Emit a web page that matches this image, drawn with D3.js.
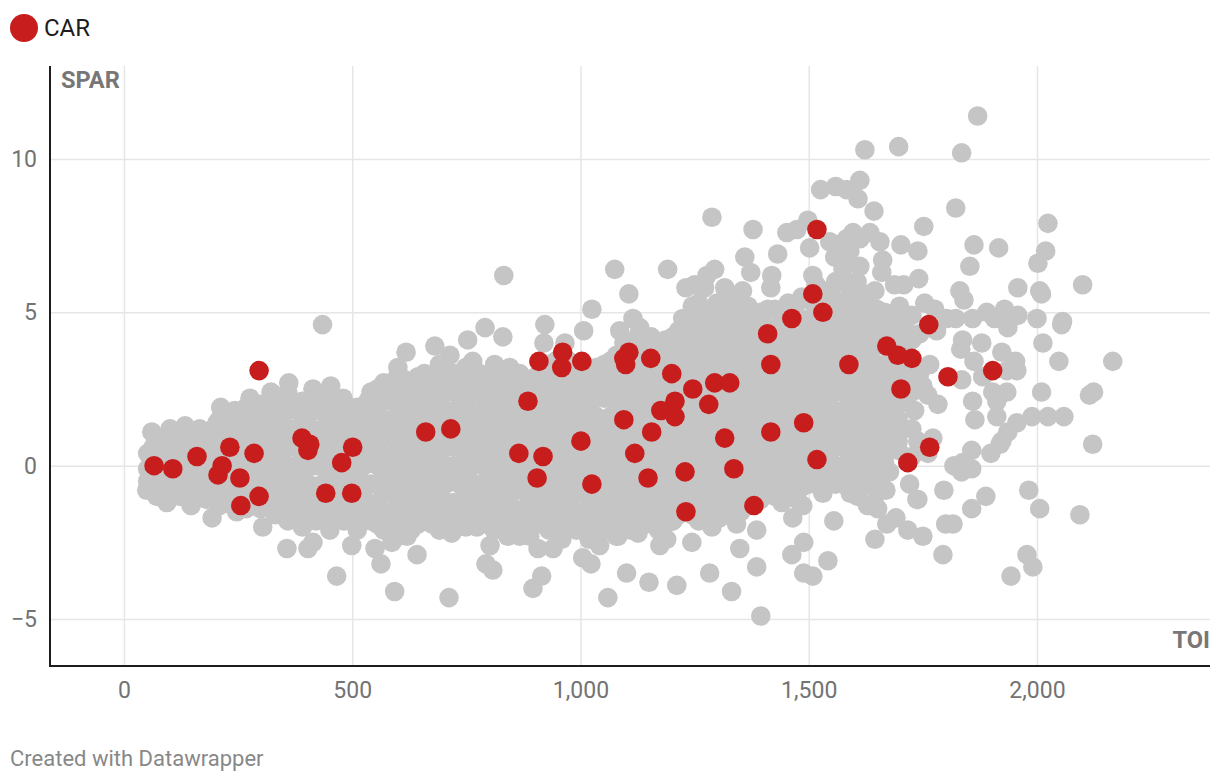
<!DOCTYPE html>
<html><head><meta charset="utf-8">
<script src="https://cdn.jsdelivr.net/npm/d3@7"></script>
<style>
html,body{margin:0;padding:0;background:#fff;width:1220px;height:782px;overflow:hidden}
svg{display:block;font-family:Roboto,sans-serif}
.tick text{font-family:Roboto,sans-serif}
</style></head><body>
<svg id="c" width="1220" height="782"></svg>
<script>
const xTicks=[0,500,1000,1500,2000];
const yTicks=[-5,0,5,10];
const highlightName="CAR";
const xName="TOI";
const yName="SPAR";
const credit="Created with Datawrapper";

const carPoints=[[66,0],[107,-.1],[160,.3],[232,.6],[285,.4],[215,0],[206,-.3],[254,-.4],[256,-1.3],[296,-1],[296,3.1],[390,.9],[407,.7],[403,.5],[477,.1],[501,.6],[442,-.9],[499,-.9],[661,1.1],[716,1.2],[885,2.1],[865,.4],[918,.3],[905,-.4],[909,3.4],[961,3.7],[959,3.2],[1003,3.4],[1001,.8],[1025,-.6],[1095,3.5],[1106,3.7],[1099,3.3],[1154,3.5],[1095,1.5],[1119,.4],[1156,1.1],[1148,-.4],[1200,3],[1176,1.8],[1207,2.1],[1207,1.6],[1246,2.5],[1281,2],[1294,2.7],[1327,2.7],[1316,.9],[1229,-.2],[1231,-1.5],[1336,-.1],[1380,-1.3],[1410,4.3],[1417,3.3],[1417,1.1],[1463,4.8],[1489,1.4],[1509,5.6],[1518,7.7],[1531,5],[1518,.2],[1588,3.3],[1671,3.9],[1695,3.6],[1726,3.5],[1702,2.5],[1717,.1],[1765,.6],[1763,4.6],[1805,2.9],[1903,3.1]];

const outerPoints=[[1870,11.4],[1623,10.3],[1697,10.4],[1835,10.2],[1822,8.4],[1643,8.3],[1612,9.3],[1608,8.7],[1526,9],[1559,9.1],[1583,9],[1288,8.1],[1498,8],[1378,7.7],[1752,7.8],[2024,7.9],[1862,7.2],[1916,7.1],[1739,7],[1702,7.2],[2019,7],[2002,6.6],[1853,6.5],[1662,6.7],[1958,5.8],[2100,5.9],[2006,5.7],[2010,5.6],[1741,6.1],[1708,5.9],[1831,5.7],[1840,5.4],[2000,4.8],[2056,4.7],[2054,4.6],[2013,4],[2048,3.4],[2166,3.4],[2010,2.4],[2124,2.4],[2115,2.3],[2122,.7],[1989,1.6],[2024,1.6],[2059,1.6],[1982,-.8],[2006,-1.4],[2094,-1.6],[1978,-2.9],[1991,-3.3],[1943,-3.6],[1794,-2.9],[1888,-1],[1857,-1.4],[1796,-.8],[1800,-1.9],[1816,-1.9],[1919,.7],[1899,.4],[1857,.5],
[61,1.1],[101,1.2],[134,1.3],[166,1.2],[204,1.4],[212,1.9],[243,1.8],[276,2.2],[322,2.4],[361,2.7],[414,2.5],[453,2.6],[480,2.2],[534,2.1],[618,3.7],[600,3.2],[681,3.9],[714,3.6],[753,4.1],[764,3.4],[812,3.3],[830,4.2],[791,4.5],[832,6.2],[845,3.2],[867,3],[435,4.6],
[50,-.8],[72,-1],[94,-1.2],[147,-1.3],[193,-1.7],[247,-1.5],[304,-2],[357,-2.7],[403,-2.7],[414,-2.5],[466,-3.6],[499,-2.6],[451,-2.1],[563,-3.2],[550,-2.7],[593,-4.1],[642,-2.9],[620,-2.3],[587,-2.5],[712,-4.3],[808,-3.4],[793,-3.2],[802,-2.6],[718,-2.2],[773,-2],
[1075,6.4],[1191,6.4],[1106,5.6],[1025,5.1],[922,4.6],[920,4],[1007,4.4],[966,4],[1115,4.8],[1086,4.4],[1130,4.5],[1360,6.8],[1373,6.3],[1432,6.9],[1419,6.2],[1509,6.2],[1294,6.4],[1277,6.2],[1231,5.8],[1250,5.9],[1272,5.8],[1316,5.8],[1355,5.7],[1367,5.2],[1417,5.8],[1299,5.3],[1224,4.8],[1255,4.8],[1240,4.4],
[896,-4],[915,-3.6],[1060,-4.3],[1101,-3.5],[1150,-3.8],[1211,-3.9],[1283,-3.5],[1331,-4.1],[1395,-4.9],[1386,-3.3],[1349,-2.7],[1244,-2.5],[1023,-3.2],[1005,-3],[1463,-2.9],[1489,-2.5],[1489,-3.5],[1509,-3.6],[1542,-3.1],[1555,-1.8],[1465,-1.7],[1487,-1.3],[1474,-1.1],[1645,-2.4],[1669,-.8],[1717,-2.1],[1671,-1.9],[1691,-1.7],[1651,-1.4],[1629,-1.3],[1607,-1],[1737,-1.1],[1721,-.6],[1673,-.2],[1750,-2.3],
[940,-2.7],[907,-2.7],[955,-2.4],[1042,-2.6],[1082,-2.3],[1126,-2.2],[1174,-2.6],[1189,-2.4],[1288,-2],[1342,-1.9],[1386,-2.1],[1202,-1.8],[889,-2.3],[867,-2.3],[1305,-1.7],[1260,-1.7],
[1502,7.1],[1546,7.3],[1583,7.4],[1597,7.6],[1634,7.6],[1656,7.3],[1557,6.8],[1579,6.7],[1575,6.4],[1612,6.5],[1660,6.3],[1688,5.9],[1645,5.7],[1452,7.6],[1474,7.7],[1590,7],[1612,7.4],[1564,7.2],
[1743,4.3],[1780,4.4],[1837,4.1],[1833,3.8],[1879,4],[1923,3.7],[1862,3.4],[1953,3.4],[1956,3.1],[1934,3.1],[1881,2.9],[1835,2.8],[1934,2.4],[1903,2.4],[1859,2.1],[1912,2.1],[1783,2],[1765,3.3],[1684,4.2],[1750,2.6],[1761,2.3],[1743,3],
[1754,5.3],[1776,5.1],[1699,5.2],[1597,5.5],[1572,5.3],[1802,4.8],[1822,4.8],[1859,4.8],[1890,5],[1907,4.8],[1929,5.1],[1936,4.5],[1958,4.9],
[1936,1.1],[1956,1.4],[1923,.8],[1864,1.5],[1912,1.6],[1772,.9],[1739,.8],[1761,.4],[1704,1.2],[1671,1.2],[1732,1.8],[1684,1.8],[1818,0],[1835,-.2],[1857,-.1],[1837,.1],[1739,-1.1],[1677,-.2]];

const denseColumns=[
[52,[-.5,-.1,.4]],[73,[-.7,-.2,.3,.8]],[94,[-.9,-.4,.1,.7]],[122,[-1,-.6,.1,.6,1]],[151,[-1.1,-.5,0,.7,1]],[181,[-1.1,-.6,.1,.5,1.1]],[209,[-1.3,-.7,-.1,.5,1.1,1.5]],[238,[-1.3,-.8,-.2,.4,1,1.5]],[268,[-1.4,-.9,-.3,.3,.9,1.5,1.9]],[299,[-1.4,-.8,-.2,.4,1,1.6,2]],
[331,[-1.6,-1,-.4,.3,.8,1.5,2.1]],[359,[-1.8,-1.2,-.6,0,.6,1.2,1.8,2.4]],[391,[-2,-1.5,-.9,-.3,.3,.9,1.6,2.1]],[421,[-1.8,-1.2,-.7,0,.6,1.1,1.8,2.3]],[449,[-1.9,-1.5,-.9,-.3,.4,.9,1.5,2.1]],[482,[-1.8,-1.2,-.6,0,.7,1.2,1.8]],[511,[-2.1,-1.5,-.8,-.3,.3,.9,1.5,1.9]],[541,[-1.8,-1.3,-.6,.1,.6,1.2,1.8,2.4]],[569,[-2.1,-1.5,-.9,-.3,.3,1,1.5,2.1,2.7]],[601,[-2.3,-1.8,-1.2,-.6,0,.6,1.2,1.8,2.5,3]],
[629,[-2.1,-1.5,-.9,-.2,.3,.9,1.5,2.1,2.7]],[658,[-1.8,-1.2,-.6,0,.7,1.2,1.8,2.4,3]],[691,[-2.1,-1.5,-.9,-.3,.3,.9,1.6,2.1,2.7,3.3]],[722,[-1.8,-1.2,-.5,0,.6,1.2,1.8,2.4,3]],[749,[-2,-1.5,-.9,-.3,.3,.9,1.5,2.2,2.7,3.2]],[779,[-1.8,-1.2,-.6,.1,.6,1.2,1.8,2.4,3]],[811,[-2.1,-1.5,-.9,-.3,.3,.9,1.5,2.1,2.7]],[841,[-2.3,-1.8,-1.2,-.6,0,.6,1.3,1.8,2.4,3]],[869,[-2.1,-1.5,-.8,-.3,.3,.9,1.5,2.1,2.7]],[902,[-1.8,-1.2,-.6,0,.6,1.2,1.8,2.4,2.9]],
[931,[-2.1,-1.5,-.9,-.3,.4,.9,1.5,2.1,2.7,3.3]],[959,[-2.4,-1.8,-1.2,-.6,0,.6,1.2,1.8,2.4,3,3.6]],[991,[-2.1,-1.5,-.9,-.3,.3,1,1.5,2.1,2.7,3.3]],[1019,[-2.4,-1.8,-1.1,-.6,0,.6,1.2,1.8,2.5,3]],[1052,[-2.1,-1.5,-.9,-.3,.3,.9,1.5,2.2,2.7,3.3]],[1079,[-2.3,-1.8,-1.2,-.6,.1,.6,1.2,1.8,2.4,3,3.6]],[1111,[-2.1,-1.5,-.9,-.3,.3,.9,1.5,2.1,2.7,3.3,3.9]],[1139,[-1.8,-1.2,-.6,0,.6,1.2,1.8,2.4,3,3.6,4.1]],[1171,[-2.1,-1.5,-.9,-.3,.3,.9,1.5,2.1,2.7,3.3,3.9]],[1202,[-1.8,-1.2,-.6,0,.6,1.2,1.8,2.4,3,3.6,4.2]],
[1229,[-1.5,-.9,-.3,.3,.9,1.5,2.1,2.7,3.3,3.9,4.5]],[1259,[-1.8,-1.2,-.6,0,.6,1.2,1.8,2.4,3,3.6,4.2,4.8,5.3]],[1291,[-1.5,-.9,-.3,.3,.9,1.5,2.1,2.7,3.3,3.9,4.5,5.1]],[1321,[-1.2,-.6,0,.6,1.2,1.8,2.4,3,3.6,4.2,4.8,5.4]],[1351,[-1.5,-.9,-.3,.3,.9,1.5,2.1,2.7,3.3,3.9,4.5,5.1]],[1379,[-1.2,-.6,0,.6,1.2,1.8,2.4,3,3.6,4.2,4.8]],[1411,[-.9,-.3,.3,.9,1.5,2.1,2.7,3.3,3.9,4.5,5.1]],[1441,[-1.2,-.6,0,.6,1.2,1.8,2.4,3,3.6,4.2,4.8]],[1469,[-.9,-.3,.3,.9,1.5,2.1,2.7,3.3,3.9,4.5,5.1]],[1501,[-.6,0,.6,1.2,1.8,2.4,3,3.6,4.2,4.8,5.4]],
[1531,[-.9,-.3,.3,.9,1.5,2.1,2.7,3.3,3.9,4.5,5.1,5.7]],[1559,[-.6,0,.6,1.2,1.8,2.4,3,3.6,4.2,4.8,5.4,6]],[1591,[-.9,-.3,.3,.9,1.5,2.1,2.7,3.3,3.9,4.5,5.1,5.7]],[1621,[-.6,0,.6,1.2,1.8,2.4,3,3.6,4.2,4.8,5.4]],[1649,[-.9,-.3,.3,.9,1.5,2.1,2.7,3.3,3.9,4.5,5.1]],[1682,[.6,2.4,3,3.6,4.8]],[1711,[2.1,3.3,3.9,4.5]]
];

const fillColumns=[
[64,[-.4,.1,.6]],[108,[-.7,-.2,.4,.9]],[137,[-.9,-.3,.3,.8]],[166,[-.8,-.3,.3,.8]],[195,[-.9,-.3,.3,.9,1.2]],[224,[-1,-.5,.1,.8,1.3]],[253,[-1.1,-.5,.1,.7,1.3]],[283,[-1.2,-.6,.1,.7,1.3,1.8]],[315,[-1.3,-.7,-.1,.6,1.2,1.8]],[345,[-1.4,-.9,-.3,.3,.9,1.5,2.1]],
[375,[-1.7,-1.1,-.6,0,.6,1.2,1.9]],[405,[-1.7,-1.2,-.6,0,.6,1.3,1.9]],[435,[-1.7,-1.1,-.6,.1,.7,1.2,1.8]],[465,[-1.7,-1.1,-.6,0,.6,1.2,1.8]],[496,[-1.8,-1.2,-.5,.1,.6,1.2,1.7]],[526,[-1.8,-1.1,-.6,0,.6,1.2,1.8]],[555,[-1.9,-1.2,-.6,0,.6,1.3,1.9,2.5]],[585,[-2,-1.5,-.9,-.3,.3,.9,1.5,2.1,2.7]],[615,[-2,-1.5,-.9,-.3,.3,.9,1.5,2.2,2.8]],[644,[-1.9,-1.3,-.7,-.1,.5,1.1,1.7,2.3,2.9]],
[675,[-1.9,-1.3,-.7,-.1,.5,1.1,1.7,2.3,2.9]],[705,[-1.8,-1.2,-.6,0,.6,1.2,1.8,2.4,3]],[735,[-1.8,-1.2,-.6,0,.6,1.2,1.8,2.4,3]],[765,[-1.8,-1.2,-.6,0,.6,1.2,1.8,2.4,2.9]],[795,[-1.9,-1.3,-.7,-.1,.5,1.1,1.7,2.3,2.8]],[826,[-1.9,-1.3,-.7,-.1,.5,1.1,1.7,2.3,2.9]],[855,[-2,-1.4,-.8,-.2,.4,1,1.6,2.2,2.8]],[885,[-1.9,-1.3,-.7,-.1,.5,1.1,1.7,2.3,2.8]],[916,[-1.9,-1.3,-.7,-.1,.5,1.1,1.7,2.3,2.9]],[945,[-2,-1.4,-.8,-.2,.4,1,1.6,2.2,2.8,3.4]],
[975,[-2,-1.4,-.8,-.2,.4,1,1.6,2.2,2.8,3.4]],[1005,[-2.1,-1.5,-.9,-.3,.3,.9,1.5,2.1,2.7,3.2]],[1035,[-2,-1.4,-.8,-.2,.4,1,1.6,2.2,2.8,3.2]],[1065,[-2,-1.4,-.8,-.2,.4,1,1.6,2.2,2.8,3.4]],[1095,[-1.9,-1.3,-.7,-.1,.5,1.1,1.7,2.3,2.9,3.5,4]],[1125,[-1.9,-1.3,-.7,-.1,.5,1.1,1.7,2.3,2.9,3.5,4.2]],[1155,[-1.9,-1.3,-.7,-.1,.5,1.1,1.7,2.3,2.9,3.5,4.2]],[1186,[-1.9,-1.3,-.7,-.1,.5,1.1,1.7,2.3,2.9,3.5,4.1]],[1215,[-1.6,-1,-.4,.2,.8,1.4,2,2.6,3.2,3.8,4.4]],[1245,[-1.6,-1,-.4,.2,.8,1.4,2,2.6,3.2,3.8,4.6,5.2]],
[1275,[-1.5,-1,-.4,.2,.8,1.4,2,2.6,3.2,3.8,4.4,5]],[1306,[-1.4,-.8,-.2,.4,1,1.6,2.2,2.8,3.4,4,4.6,5.2]],[1336,[-1.4,-.8,-.2,.4,1,1.6,2.2,2.8,3.4,4,4.6,5.2]],[1365,[-1.3,-.7,-.1,.5,1.1,1.7,2.3,2.9,3.5,4.1,4.7]],[1395,[-1.1,-.5,.1,.7,1.3,1.9,2.5,3.1,3.7,4.3,5]],[1426,[-1,-.4,.2,.8,1.4,2,2.6,3.2,3.8,4.4,5.1]],[1455,[-1,-.4,.2,.8,1.4,2,2.6,3.2,3.8,4.4,5.3]],[1485,[-.7,-.1,.5,1.1,1.7,2.3,2.9,3.5,4.1,4.7,5.5]],
[1516,[-.6,.1,.7,1.3,2,2.6,3.1,3.7,4.3,4.9,5.9]],[1546,[-.5,.2,.6,1.2,1.8,2.4,3.1,3.6,4.2,4.8,5.6]],[1576,[-.6,0,.6,1.2,1.8,2.4,3,3.6,4.2,4.8,6]],[1606,[-.7,.1,.7,1.3,1.8,2.4,3,3.6,4.2,4.9,6]],[1635,[-.2,.4,1,1.6,2.2,2.8,3.4,4,4.7,5.6]],[1666,[.1,.7,1.6,2.2,2.7,3.3,4.4,5]],[1696,[.5,.8,1.5,2,3,4.1,4.7]],[1726,[.3,1.2,2.4,2.9,4.1,4.9]]
];

const grayPoints=outerPoints
  .concat(denseColumns.flatMap(c=>c[1].map(s=>[c[0],s])))
  .concat(fillColumns.flatMap(c=>c[1].map(s=>[c[0],s])));

const svg=d3.select("#c");
const left=50,right=1210,top_=66,bottom=666;
const x=d3.scaleLinear().domain([-162,2379]).range([left,right]);
const y=d3.scaleLinear().domain([13.03,-6.53]).range([top_,bottom]);

const gridStyle=g=>{g.select(".domain").remove();
  g.selectAll(".tick line").attr("stroke","#e6e6e6").attr("stroke-width",1.5);
  g.selectAll(".tick text").attr("fill","#737373").attr("font-size",23);};

svg.append("g").attr("transform",`translate(0,${bottom})`)
  .call(d3.axisBottom(x).tickValues(xTicks).tickFormat(d3.format(",")).tickSize(-(bottom-top_)).tickPadding(16))
  .call(gridStyle);
svg.append("g").attr("transform",`translate(${left},0)`)
  .call(d3.axisLeft(y).tickValues(yTicks).tickFormat(d3.format("d")).tickSize(-(right-left)).tickPadding(13))
  .call(gridStyle);

const dots=(data,fill)=>svg.append("g").selectAll("circle").data(data).join("circle")
  .attr("cx",d=>x(d[0])).attr("cy",d=>y(d[1])).attr("r",9.8).attr("fill",fill);
dots(grayPoints,"#c5c5c5");
dots(carPoints,"#c71e1d");

svg.append("line").attr("x1",left).attr("x2",left).attr("y1",top_).attr("y2",bottom+1).attr("stroke","#1d1d1d").attr("stroke-width",2);
svg.append("line").attr("x1",left-1).attr("x2",right).attr("y1",bottom).attr("y2",bottom).attr("stroke","#1d1d1d").attr("stroke-width",2);

svg.append("text").text(yName).attr("x",61).attr("y",88).attr("font-size",23.6).attr("font-weight",700).attr("fill","#777");
svg.append("text").text(xName).attr("x",1210).attr("y",648).attr("text-anchor","end").attr("font-size",23.6).attr("font-weight",700).attr("fill","#777");

svg.append("circle").attr("cx",24).attr("cy",28).attr("r",14).attr("fill","#c71e1d");
svg.append("text").text(highlightName).attr("x",44).attr("y",36).attr("font-size",24).attr("fill","#1d1d1d");
svg.append("text").text(credit).attr("x",10).attr("y",766).attr("font-size",22).attr("fill","#888");
</script>
</body></html>
